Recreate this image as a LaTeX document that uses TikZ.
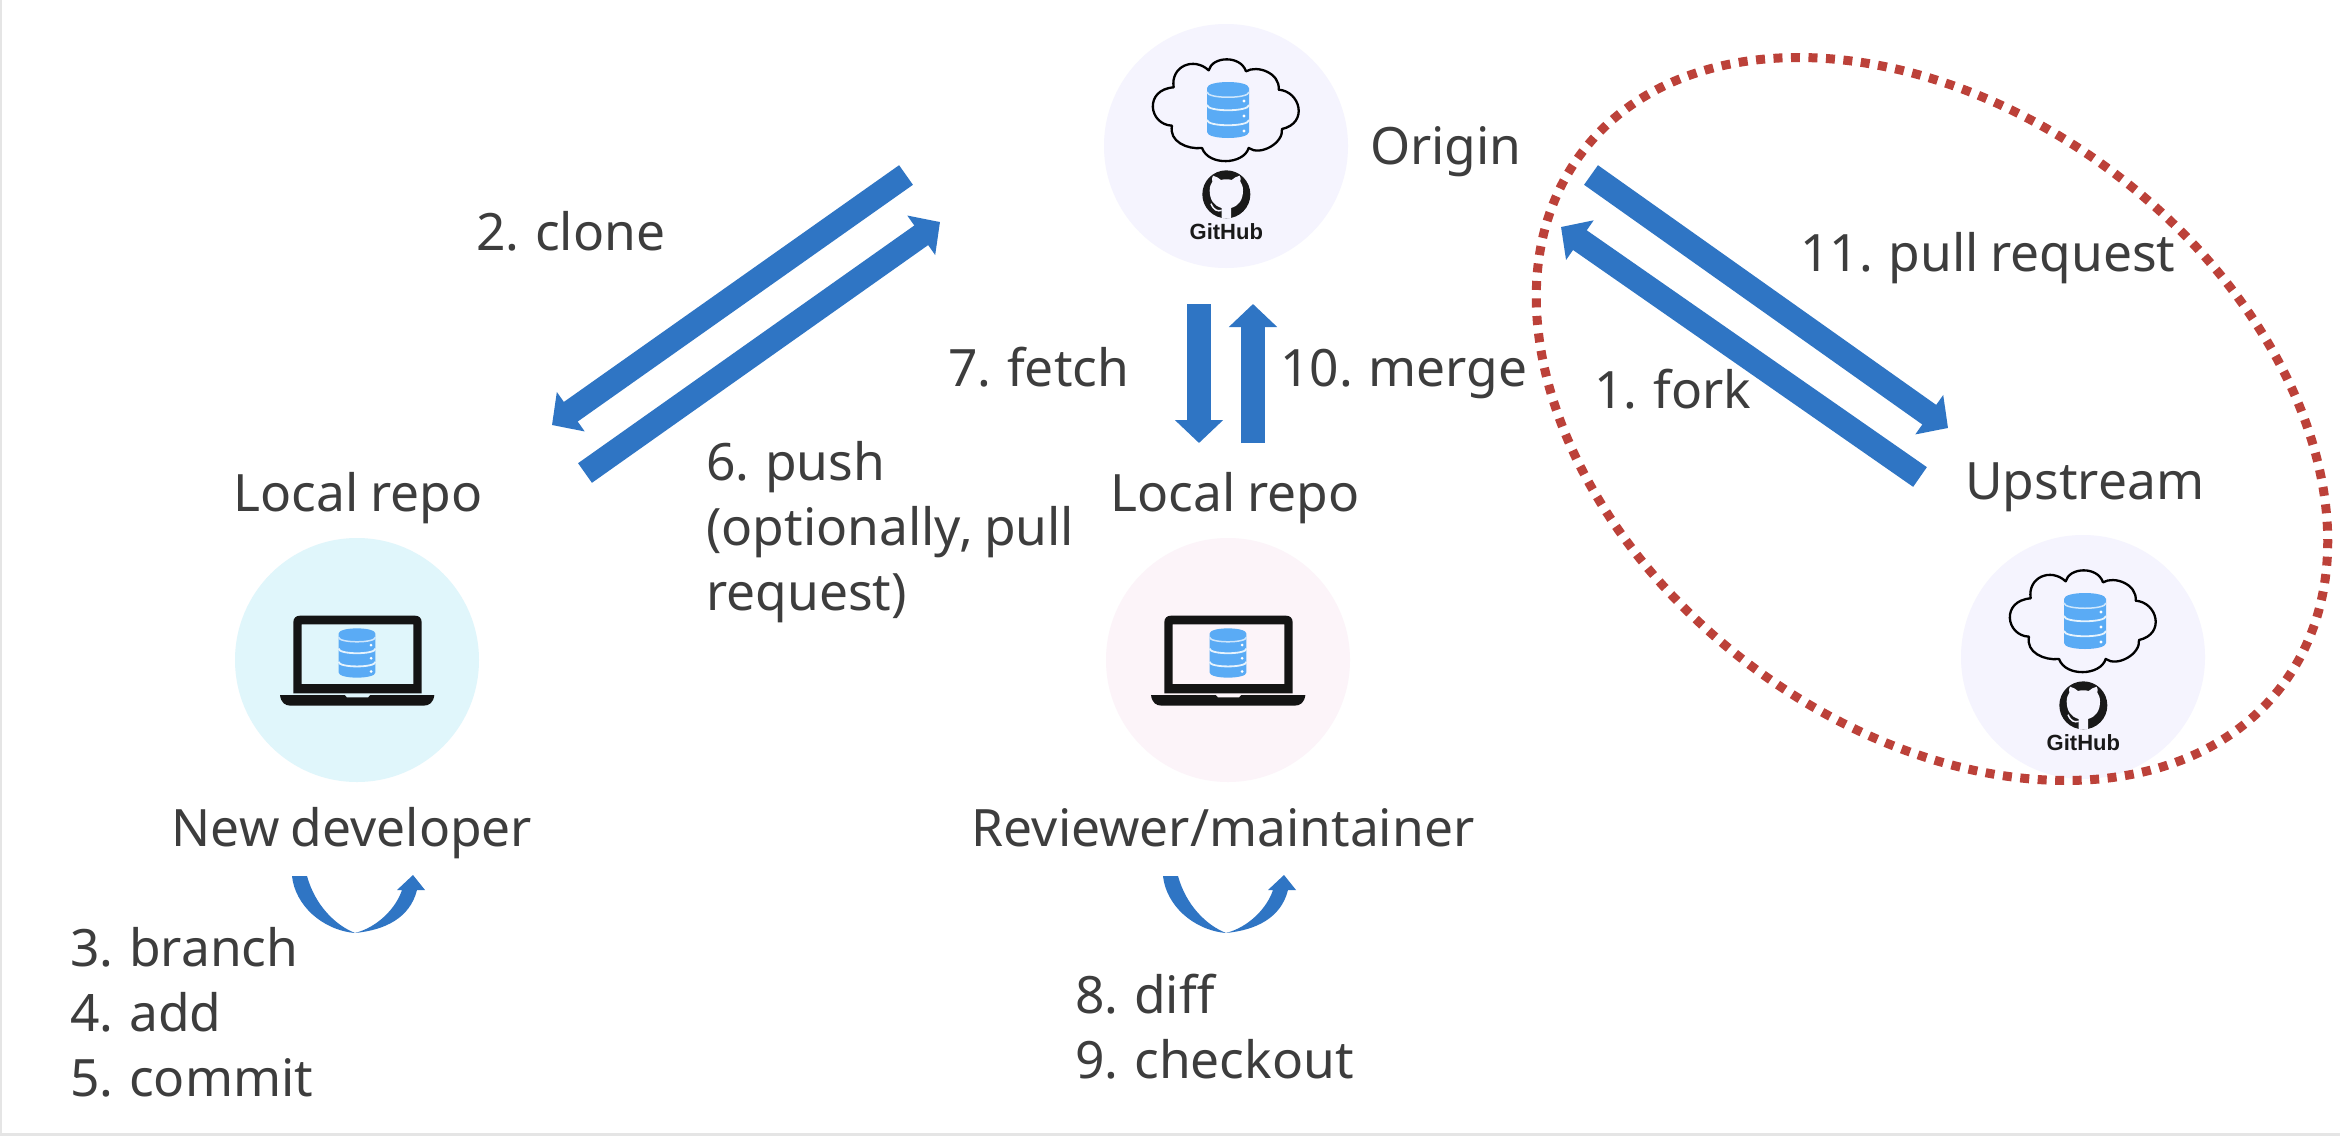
\documentclass[tikz,border=0pt]{standalone}
\usepackage{fontspec}
\setmainfont{Noto Sans}[WordSpace=0.85]
\newfontfamily\ghfont{Liberation Sans}
\usetikzlibrary{arrows.meta}
\definecolor{txt}{HTML}{3D3D3D}
\definecolor{blockblue}{HTML}{2F75C4}
\definecolor{dbblue}{HTML}{5AABF5}
\definecolor{dotred}{HTML}{BC4139}
\definecolor{hubbg}{HTML}{F5F4FE}
\definecolor{devbg}{HTML}{E0F6FB}
\definecolor{revbg}{HTML}{FCF4F9}
\tikzset{
  lbl/.style={text=txt,inner sep=0pt,anchor=base west,align=left,yshift=-1.5pt,font=\fontsize{51.5}{65}\selectfont},
  lblc/.style={lbl,anchor=base,align=center},
  blob/.style={circle,inner sep=0pt,minimum size=244pt},
  blockarrow/.style={draw=blockblue,line width=24pt,-{Triangle[length=23pt,width=47pt]}},
  pics/dbicon/.style={code={
    \fill[dbblue] (-21,-22) .. controls (-21,-30) and (21,-30) .. (21,-22) -- (21,22) .. controls (21,30) and (-21,30) .. (-21,22) -- cycle;
    \draw[white!70!dbblue,line width=1.5pt] (-21,-18) .. controls (-21,-11) and (21,-11) .. (21,-18);
    \draw[white!85!dbblue,line width=1.8pt] (-21,-5) .. controls (-21,2) and (21,2) .. (21,-5);
    \draw[white!85!dbblue,line width=1.8pt] (-21,10) .. controls (-21,17) and (21,17) .. (21,10);
    \fill[white] (16,-9) circle (1.7pt) (16,6) circle (1.7pt) (16,21) circle (1.7pt);
  }},
  pics/hubicon/.style={code={
    \begin{scope}[scale=1/3,shift={(-437,-439)}]
      \draw[black,line width=2.3pt,line join=round] (280,263)
        .. controls (270,200) and (340,170) .. (385,212)
        .. controls (395,170) and (480,165) .. (497,215)
        .. controls (530,195) and (600,220) .. (595,270)
        .. controls (660,275) and (685,370) .. (605,388)
        .. controls (610,430) and (540,470) .. (505,445)
        .. controls (490,495) and (385,500) .. (365,445)
        .. controls (320,450) and (265,425) .. (275,378)
        .. controls (205,375) and (190,270) .. (280,263) -- cycle;
      \fill[black!90] (438,584) circle (72);
      \fill[hubbg] (424,656) -- (424,625) .. controls (400,618) and (388,600) .. (388,572)
        .. controls (388,560) and (392,552) .. (396,546) .. controls (394,538) and (395,533) .. (398,528)
        .. controls (408,530) and (416,536) .. (422,541) .. controls (432,538) and (444,538) .. (454,541)
        .. controls (460,536) and (468,530) .. (478,528) .. controls (481,533) and (482,538) .. (480,546)
        .. controls (484,552) and (488,560) .. (488,572) .. controls (488,600) and (476,618) .. (452,625)
        -- (452,656) -- cycle;
      \draw[hubbg,line width=1.5pt] (392,612) .. controls (400,632) and (412,636) .. (424,632);
      \node[inner sep=0pt,text=black!90,font=\ghfont\bfseries\fontsize{22}{24}\selectfont] (gh) at (438,697) {GitHub};
    \end{scope}
    \pic at (2,-36) {dbicon};
  }},
  pics/laptopicon/.style={code={
    \begin{scope}[scale=1/3,shift={(-411,-390)}]
      \fill[black!92,even odd rule] (220,490) -- (220,277) .. controls (220,264) and (228,257) .. (240,257)
        -- (585,257) .. controls (597,257) and (605,264) .. (605,277) -- (605,490) -- cycle
        (245,283) rectangle (580,462);
      \fill[black!92] (180,495) -- (643,495) .. controls (640,518) and (628,527) .. (610,527) -- (212,527) .. controls (195,527) and (183,518) .. (180,495) -- cycle;
      \fill[#1] (375,495) -- (450,495) -- (444,502) -- (381,502) -- cycle;
    \end{scope}
    \pic[scale=0.88] at (0,-7) {dbicon};
  }},
  pics/swoop/.style={code={
    \fill[blockblue] (292,876) .. controls (295,905) and (322,930) .. (355,933)
      .. controls (385,930) and (410,918) .. (417,890) -- (425,890) -- (413,875) -- (397,890) -- (402,890)
      .. controls (396,908) and (378,927) .. (355,933)
      .. controls (335,925) and (315,905) .. (307,876) -- cycle;
  }}
}
\begin{document}
\begin{tikzpicture}[x=1pt,y=-1pt]
\useasboundingbox (0,0) rectangle (2340,1138);
\fill[white] (0,0) rectangle (2340,1138);
\draw[black!10,line width=3pt] (0,0) -- (0,1134) -- (2340,1134);

% icons
\node[blob,fill=hubbg] (origin) at (1226,146) {};
\pic at (origin.center) {hubicon};
\node[blob,fill=devbg] (dev) at (357,660) {};
\pic at (dev.center) {laptopicon=devbg};
\node[blob,fill=revbg] (rev) at (1228,660) {};
\pic at (rev.center) {laptopicon=revbg};
\node[blob,fill=hubbg] (up) at (2083,657) {};
\pic at (up.center) {hubicon};

% arrow ends
\coordinate (cloneA) at (906,175);
\coordinate (cloneB) at (552,425);
\coordinate (pushA) at (585,473);
\coordinate (pushB) at (940,222);
\coordinate (fetchA) at (1199,304);
\coordinate (fetchB) at (1199,443);
\coordinate (mergeA) at (1253,443);
\coordinate (mergeB) at (1253,304);
\coordinate (prA) at (1591,175);
\coordinate (prB) at (1948,428);
\coordinate (forkA) at (1920,477);
\coordinate (forkB) at (1561,227);
\draw[blockarrow] (cloneA) -- (cloneB);
\draw[blockarrow] (pushA) -- (pushB);
\draw[blockarrow] (fetchA) -- (fetchB);
\draw[blockarrow] (mergeA) -- (mergeB);
\draw[blockarrow] (prA) -- (prB);
\draw[blockarrow] (forkA) -- (forkB);

% curved arrows
\pic at (0,0) {swoop};
\pic at (871,0) {swoop};

% labels
\node[lbl] (lorigin) at (1370,163) {Origin};
\node[lbl] (lclone) at (476,249) {2. clone};
\node[lbl] (lfetch) at (948,385) {7. fetch};
\node[lbl] (lmerge) at (1280,385) {10. merge};
\node[lbl] (lpr) at (1800,270) {11. pull request};
\node[lbl] (lfork) at (1594,407) {1. fork};
\node[lbl] (lup) at (1965,498) {Upstream};
\node[lblc] (lrepoa) at (358,510) {Local repo};
\node[lblc] (lrepob) at (1235,510) {Local repo};
\node[lbl] (lpush) at (706,609) {6. push\\(optionally, pull\\request)};
\node[lblc] (lnew) at (352,845) {New developer};
\node[lblc] (lrev) at (1223,845) {Reviewer/maintainer};
\node[lbl] (lsteps) at (70,1095) {3. branch\\4. add\\5. commit};
\node[lbl] (lrevsteps) at (1075,1077) {8. diff\\9. checkout};

% dotted ellipse
\draw[dotred,line width=9pt,dash pattern=on 9pt off 8.5pt,rotate around={-37.5:(1932,419)}] (1932,419) ellipse (440 and 306);
\end{tikzpicture}
\end{document}
